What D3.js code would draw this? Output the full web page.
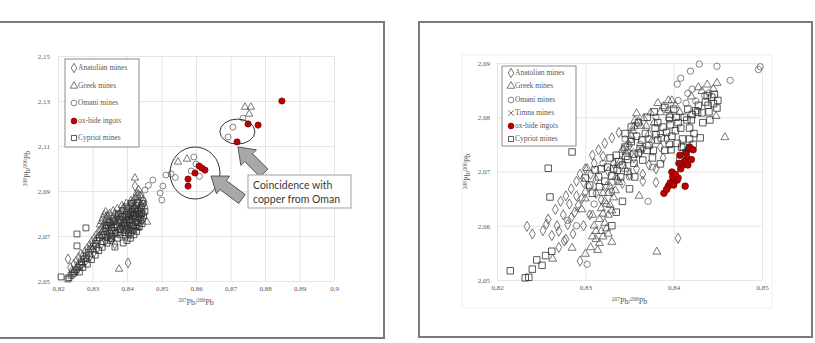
<!DOCTYPE html>
<html>
<head>
<meta charset="utf-8">
<script src="https://cdn.jsdelivr.net/npm/d3@7"></script>
<style>body{margin:0;background:#fff}</style>
</head>
<body>
<svg id="chart" width="815" height="343"></svg>
<script>
// ---- left panel data (207Pb/206Pb, 208Pb/206Pb) ----
const leftXTicks = [0.82, 0.83, 0.84, 0.85, 0.86, 0.87, 0.88, 0.89, 0.9];
const leftXLabels = ['0,82', '0,83', '0,84', '0,85', '0,86', '0,87', '0,88', '0,89', '0,9'];
const leftYTicks = [2.05, 2.07, 2.09, 2.11, 2.13, 2.15];
const leftYLabels = ['2,05', '2,07', '2,09', '2,11', '2,13', '2,15'];

const leftAnatolian = [[0.8229,2.0598],[0.8236,2.0560],[0.8240,2.0545],[0.8246,2.0575],[0.8253,2.0590],[0.8260,2.0604],[0.8266,2.0620],[0.8272,2.0612],[0.8278,2.0630],[0.8285,2.0645],[0.8292,2.0660],[0.8298,2.0675],[0.8305,2.0690],[0.8312,2.0705],[0.8318,2.0718],[0.8325,2.0730],[0.8330,2.0745],[0.8336,2.0705],[0.8343,2.0720],[0.8349,2.0735],[0.8355,2.0750],[0.8361,2.0762],[0.8367,2.0775],[0.8373,2.0788],[0.8379,2.0800],[0.8385,2.0812],[0.8391,2.0825],[0.8397,2.0810],[0.8403,2.0822],[0.8409,2.0835],[0.8415,2.0848],[0.8421,2.0860],[0.8427,2.0872],[0.8433,2.0884],[0.8423,2.0922],[0.8403,2.0580],[0.8377,2.0720],[0.8384,2.0740],[0.8360,2.0700],[0.8440,2.0840],[0.8447,2.0860],
  [0.8338,2.0680],[0.8352,2.0692],[0.8366,2.0715],[0.8378,2.0735],[0.8390,2.0755],[0.8402,2.0765],[0.8414,2.0790],[0.8426,2.0812],[0.8438,2.0825],[0.8450,2.0850],[0.8370,2.0790],[0.8383,2.0765],[0.8395,2.0785],[0.8408,2.0808],[0.8420,2.0828],[0.8432,2.0842],[0.8346,2.0760],[0.8358,2.0775],[0.8365,2.0665],[0.8255,2.0545],[0.8268,2.0570],[0.8280,2.0590],[0.8293,2.0612],[0.8305,2.0630],[0.8315,2.0648],[0.8326,2.0665],
  [0.8398,2.0720],[0.8408,2.0735],[0.8418,2.0750],[0.8430,2.0768],[0.8440,2.0788],[0.8412,2.0710],[0.8422,2.0728],[0.8434,2.0750],[0.8446,2.0775],[0.8452,2.0830]];
const leftGreek = [[0.8377,2.0553],[0.8458,2.0762],[0.8423,2.0958],[0.8742,2.1273],[0.8759,2.1273],[0.8754,2.1242],[0.8548,2.1029],[0.8574,2.1042],[0.8300,2.0640],[0.8318,2.0700],[0.8322,2.0750],[0.8326,2.0765],[0.8330,2.0780],[0.8334,2.0795],[0.8338,2.0808],[0.8342,2.0790],[0.8347,2.0770],[0.8352,2.0760],[0.8358,2.0785],[0.8365,2.0800],[0.8375,2.0780],[0.8390,2.0790],[0.8405,2.0800],[0.8418,2.0830],[0.8428,2.0890],[0.8434,2.0905],[0.8380,2.0740],[0.8395,2.0750],[0.8410,2.0770],[0.8270,2.0580],[0.8285,2.0600],[0.8310,2.0660],
  [0.8335,2.0760],[0.8340,2.0775],[0.8344,2.0788],[0.8350,2.0800],[0.8360,2.0812],[0.8372,2.0822],[0.8385,2.0835],[0.8398,2.0845],[0.8412,2.0858],[0.8425,2.0868],[0.8438,2.0880],[0.8416,2.0800],[0.8400,2.0770],[0.8386,2.0750],[0.8360,2.0720],[0.8345,2.0700],
  [0.8405,2.0720],[0.8420,2.0742],[0.8432,2.0735],[0.8445,2.0800]];
const leftOmani = [[0.8475,2.0949],[0.8504,2.0922],[0.8513,2.0971],[0.8528,2.0976],[0.8586,2.0989],[0.8594,2.1051],[0.8736,2.1224],[0.8707,2.1184],[0.8693,2.1140],[0.8501,2.0860],[0.8496,2.0891],[0.8452,2.0904],[0.8462,2.0925],[0.8440,2.0880],[0.8445,2.0860],[0.8430,2.0870],[0.8610,2.0965],[0.8600,2.1020],[0.8540,2.0960],[0.8420,2.0850],[0.8410,2.0825],[0.8380,2.0760],[0.8355,2.0735],[0.8330,2.0700]];
const leftOxhide = [[0.8849,2.1300],[0.8751,2.1198],[0.8780,2.1193],[0.8719,2.1118],[0.8609,2.1011],[0.8626,2.0993],[0.8597,2.0980],[0.8577,2.0953],[0.8577,2.0922],[0.8617,2.1002]];
const leftCypriot = [[0.8209,2.0518],[0.8229,2.0509],[0.8232,2.0515],[0.8238,2.0525],[0.8243,2.0532],[0.8248,2.0540],[0.8255,2.0656],[0.8255,2.0709],[0.8281,2.0736],[0.8252,2.0550],[0.8258,2.0561],[0.8263,2.0572],[0.8268,2.0585],[0.8275,2.0598],[0.8282,2.0612],[0.8288,2.0628],[0.8295,2.0642],[0.8302,2.0655],[0.8308,2.0668],[0.8313,2.0680],[0.8320,2.0692],[0.8327,2.0705],[0.8333,2.0720],[0.8338,2.0733],[0.8345,2.0745],[0.8350,2.0712],[0.8356,2.0725],[0.8362,2.0738],[0.8368,2.0750],[0.8374,2.0762],[0.8380,2.0775],[0.8386,2.0788],[0.8392,2.0760],[0.8398,2.0772],[0.8404,2.0785],[0.8410,2.0798],[0.8416,2.0810],[0.8422,2.0822],[0.8428,2.0835],[0.8395,2.0735],[0.8402,2.0748],[0.8408,2.0762],[0.8414,2.0775],[0.8420,2.0790],[0.8389,2.0669],[0.8365,2.0651],[0.8372,2.0690],[0.8380,2.0705],[0.8352,2.0680],[0.8342,2.0695],[0.8432,2.0850],[0.8438,2.0810],[0.8426,2.0800],
  [0.8330,2.0675],[0.8342,2.0668],[0.8356,2.0700],[0.8368,2.0712],[0.8381,2.0728],[0.8394,2.0745],[0.8406,2.0770],[0.8418,2.0792],[0.8430,2.0815],[0.8442,2.0828],[0.8375,2.0798],[0.8388,2.0812],[0.8400,2.0830],[0.8412,2.0845],[0.8362,2.0770],[0.8350,2.0760],[0.8340,2.0748],[0.8262,2.0540],[0.8272,2.0560],[0.8285,2.0575],[0.8297,2.0595],[0.8308,2.0615],[0.8318,2.0635],[0.8328,2.0650],[0.8355,2.0688],[0.8372,2.0742],[0.8398,2.0795],[0.8425,2.0780],[0.8436,2.0795],[0.8446,2.0845],[0.8392,2.0715],[0.8403,2.0730],
  [0.8395,2.0700],[0.8405,2.0712],[0.8415,2.0725],[0.8425,2.0740],[0.8432,2.0760],[0.8440,2.0772],[0.8448,2.0790],[0.8452,2.0810],[0.8410,2.0690],[0.8420,2.0705],[0.8428,2.0720],[0.8436,2.0742],[0.8444,2.0755],[0.8400,2.0680],[0.8415,2.0745],[0.8425,2.0760],[0.8435,2.0778],[0.8442,2.0800]];

// annotation ellipses (centre in data units, radii in px)
const leftEllipses = [[0.8597, 2.0980, 25, 26], [0.8720, 2.1164, 17.5, 12.5]];
const noteLines = ['Coincidence with', 'copper from Oman'];

// ---- right panel data ----
const rightXTicks = [0.82, 0.83, 0.84, 0.85];
const rightXLabels = ['0,82', '0,83', '0,84', '0,85'];
const rightYTicks = [2.05, 2.06, 2.07, 2.08, 2.09];
const rightYLabels = ['2,05', '2,06', '2,07', '2,08', '2,09'];

const rightAnatolian = [[0.8234,2.0599],[0.8252,2.0591],[0.8256,2.0603],[0.8262,2.0582],[0.8270,2.0590],[0.8276,2.0572],[0.8280,2.0602],[0.8284,2.0615],[0.8288,2.0625],[0.8292,2.0638],[0.8296,2.0650],[0.8300,2.0662],[0.8304,2.0672],[0.8294,2.0535],[0.8405,2.0577],[0.8275,2.0620],[0.8282,2.0640],[0.8290,2.0655],[0.8298,2.0680],[0.8306,2.0695],[0.8312,2.0660],[0.8318,2.0648],[0.8324,2.0672],[0.8330,2.0662],[0.8336,2.0685],[0.8342,2.0678],[0.8350,2.0695],[0.8358,2.0705],[0.8365,2.0695],[0.8372,2.0712],[0.8380,2.0705],[0.8388,2.0725],[0.8343,2.0740],[0.8350,2.0748],[0.8365,2.0742],[0.8310,2.0715],[0.8320,2.0728],[0.8286,2.0585],[0.8298,2.0600],[0.8305,2.0620],[0.8365,2.0682],[0.8380,2.0680],
  [0.8240,2.0585],[0.8258,2.0612],[0.8266,2.0630],[0.8272,2.0645],[0.8278,2.0655],[0.8268,2.0600],[0.8284,2.0668],[0.8290,2.0682],[0.8294,2.0695],[0.8300,2.0705],[0.8308,2.0730],[0.8315,2.0740],[0.8322,2.0752],[0.8330,2.0762],[0.8338,2.0772],[0.8312,2.0685],[0.8326,2.0700],[0.8332,2.0715],[0.8355,2.0725],[0.8362,2.0735],[0.8375,2.0755],[0.8385,2.0745],[0.8392,2.0760],[0.8278,2.0575],[0.8270,2.0560]];
const rightGreek = [[0.8302,2.0706],[0.8263,2.0539],[0.8285,2.0559],[0.8300,2.0548],[0.8306,2.0560],[0.8312,2.0575],[0.8318,2.0590],[0.8322,2.0605],[0.8326,2.0620],[0.8318,2.0632],[0.8322,2.0645],[0.8326,2.0660],[0.8330,2.0570],[0.8314,2.0555],[0.8328,2.0638],[0.8332,2.0652],[0.8310,2.0600],[0.8308,2.0620],[0.8340,2.0720],[0.8346,2.0735],[0.8351,2.0758],[0.8352,2.0766],[0.8354,2.0775],[0.8355,2.0783],[0.8356,2.0794],[0.8358,2.0807],[0.8363,2.0784],[0.8369,2.0784],[0.8361,2.0655],[0.8381,2.0552],[0.8382,2.0826],[0.8385,2.0809],[0.8394,2.0831],[0.8398,2.0831],[0.8394,2.0813],[0.8407,2.0809],[0.8396,2.0804],[0.8428,2.0855],[0.8449,2.0863],[0.8445,2.0852],[0.8448,2.0802],[0.8458,2.0763],[0.8335,2.0690],[0.8345,2.0705],[0.8372,2.0770],[0.8378,2.0790],
  [0.8316,2.0568],[0.8320,2.0580],[0.8324,2.0595],[0.8316,2.0612],[0.8320,2.0622],[0.8330,2.0628],[0.8324,2.0640],[0.8320,2.0660],[0.8328,2.0672],[0.8334,2.0665],[0.8338,2.0680],[0.8312,2.0590],[0.8308,2.0580],[0.8326,2.0585],[0.8342,2.0740],[0.8348,2.0750],[0.8360,2.0792],[0.8366,2.0798],[0.8374,2.0808],[0.8388,2.0820],[0.8402,2.0822],[0.8420,2.0838],[0.8432,2.0848],[0.8438,2.0860],[0.8300,2.0650],[0.8296,2.0630]];
const rightOmani = [[0.8429,2.0898],[0.8449,2.0894],[0.8419,2.0885],[0.8408,2.0872],[0.8404,2.0861],[0.8416,2.0844],[0.8421,2.0852],[0.8464,2.0868],[0.8496,2.0888],[0.8498,2.0893],[0.8405,2.0831],[0.8414,2.0826],[0.8371,2.0645],[0.8376,2.0708],[0.8302,2.0529],[0.8310,2.0640],[0.8330,2.0680],[0.8350,2.0690],[0.8372,2.0760],[0.8385,2.0770],[0.8395,2.0795],[0.8380,2.0800],[0.8362,2.0750],[0.8345,2.0760],[0.8320,2.0715],[0.8425,2.0830],[0.8435,2.0840],[0.8440,2.0845],[0.8280,2.0610],[0.8290,2.0600]];
const rightTimna = [[0.8335,2.0710],[0.8352,2.0738],[0.8290,2.0630]];
const rightOxhide = [[0.8389,2.0660],[0.8394,2.0673],[0.8399,2.0680],[0.8404,2.0684],[0.8413,2.0673],[0.8396,2.0679],[0.8399,2.0690],[0.8405,2.0688],[0.8398,2.0699],[0.8407,2.0730],[0.8415,2.0725],[0.8402,2.0695],[0.8408,2.0705],[0.8410,2.0712],[0.8412,2.0718],[0.8406,2.0715],[0.8414,2.0735],[0.8417,2.0742],[0.8392,2.0667],[0.8416,2.0712],[0.8420,2.0722],[0.8418,2.0745],[0.8422,2.0740],[0.8400,2.0675]];
const rightCypriot = [[0.8215,2.0517],[0.8232,2.0504],[0.8236,2.0505],[0.8240,2.0520],[0.8245,2.0537],[0.8251,2.0527],[0.8255,2.0545],[0.8262,2.0553],[0.8260,2.0653],[0.8258,2.0706],[0.8285,2.0736],[0.8311,2.0703],[0.8318,2.0705],[0.8325,2.0708],[0.8300,2.0688],[0.8305,2.0675],[0.8315,2.0690],[0.8322,2.0682],[0.8330,2.0692],[0.8336,2.0702],[0.8342,2.0712],[0.8348,2.0722],[0.8355,2.0732],[0.8360,2.0734],[0.8364,2.0758],[0.8365,2.0721],[0.8370,2.0739],[0.8376,2.0725],[0.8377,2.0739],[0.8379,2.0780],[0.8382,2.0758],[0.8385,2.0714],[0.8388,2.0782],[0.8390,2.0739],[0.8395,2.0750],[0.8398,2.0765],[0.8402,2.0775],[0.8405,2.0790],[0.8407,2.0720],[0.8409,2.0745],[0.8410,2.0760],[0.8412,2.0800],[0.8414,2.0735],[0.8416,2.0815],[0.8418,2.0780],[0.8420,2.0795],[0.8422,2.0750],[0.8425,2.0812],[0.8427,2.0809],[0.8430,2.0762],[0.8433,2.0790],[0.8436,2.0828],[0.8439,2.0822],[0.8441,2.0795],[0.8443,2.0837],[0.8449,2.0817],[0.8450,2.0831],[0.8345,2.0745],[0.8352,2.0755],[0.8358,2.0765],[0.8335,2.0730],[0.8328,2.0725],[0.8340,2.0690],[0.8348,2.0700],[0.8330,2.0600],[0.8335,2.0625],[0.8342,2.0645],[0.8350,2.0668],[0.8356,2.0690],[0.8395,2.0800],[0.8400,2.0815],[0.8382,2.0790],[0.8368,2.0770],
  [0.8372,2.0748],[0.8380,2.0768],[0.8386,2.0762],[0.8392,2.0772],[0.8396,2.0786],[0.8403,2.0800],[0.8408,2.0780],[0.8415,2.0795],[0.8421,2.0805],[0.8428,2.0822],[0.8432,2.0808],[0.8438,2.0840],[0.8445,2.0825],[0.8423,2.0770],[0.8418,2.0760],[0.8411,2.0745],[0.8404,2.0752],[0.8397,2.0740],[0.8362,2.0742],[0.8355,2.0715],[0.8346,2.0728],[0.8338,2.0718],[0.8332,2.0705],[0.8316,2.0672],[0.8308,2.0660],[0.8345,2.0770],[0.8352,2.0782],[0.8360,2.0790],[0.8370,2.0800],[0.8378,2.0810],[0.8390,2.0818],[0.8440,2.0810],[0.8446,2.0842]];

const serif = '"Liberation Serif", "DejaVu Serif", serif';
const symTimes = d3.symbolTimes || d3.symbolCross;

const svg = d3.select('#chart');

// panel frames
svg.append('rect').attr('x', -2).attr('y', 22).attr('width', 386).attr('height', 316)
  .attr('fill', 'none').attr('stroke', '#7a7a7a').attr('stroke-width', 2);
svg.append('rect').attr('x', 419).attr('y', 22).attr('width', 393).attr('height', 315)
  .attr('fill', 'none').attr('stroke', '#7a7a7a').attr('stroke-width', 2);
// faint chart-area border of the right chart
svg.append('rect').attr('x', 462).attr('y', 55).attr('width', 310).attr('height', 253)
  .attr('fill', 'none').attr('stroke', '#f0f0f0');

// label with superscript isotopes: ²⁰⁷Pb/²⁰⁶Pb
function isoLabel(sel, a, b) {
  sel.append('tspan').attr('font-size', 5.5).attr('dy', -3).text(a);
  sel.append('tspan').attr('dy', 3).text('Pb/');
  sel.append('tspan').attr('font-size', 5.5).attr('dy', -3).text(b);
  sel.append('tspan').attr('dy', 3).text('Pb');
}

function drawPanel(o) {
  const x = d3.scaleLinear().domain(o.xDomain).range(o.xRange);
  const y = d3.scaleLinear().domain(o.yDomain).range(o.yRange);
  const g = svg.append('g');
  const w = o.xRange[1] - o.xRange[0];
  const h = o.yRange[0] - o.yRange[1];

  // grid
  g.append('g').attr('transform', `translate(0,${o.yRange[0]})`)
    .call(d3.axisBottom(x).tickValues(o.xTicks).tickSize(-h).tickFormat(''))
    .call(a => a.select('.domain').remove())
    .call(a => a.selectAll('line').attr('stroke', '#e6e6e6'));
  g.append('g').attr('transform', `translate(${o.xRange[0]},0)`)
    .call(d3.axisLeft(y).tickValues(o.yTicks).tickSize(-w).tickFormat(''))
    .call(a => a.select('.domain').remove())
    .call(a => a.selectAll('line').attr('stroke', '#e6e6e6'));

  // tick labels
  g.append('g').attr('transform', `translate(0,${o.yRange[0]})`)
    .call(d3.axisBottom(x).tickValues(o.xTicks).tickSize(0).tickPadding(5)
      .tickFormat((d, i) => o.xLabels[i]))
    .call(a => a.select('.domain').remove())
    .call(a => a.selectAll('text').attr('font-family', serif).attr('font-size', 7).attr('fill', '#595959'));
  g.append('g').attr('transform', `translate(${o.xRange[0]},0)`)
    .call(d3.axisLeft(y).tickValues(o.yTicks).tickSize(0).tickPadding(o.yPad)
      .tickFormat((d, i) => o.yLabels[i]))
    .call(a => a.select('.domain').remove())
    .call(a => a.selectAll('text').attr('font-family', serif).attr('font-size', 7).attr('fill', '#595959'));

  // axis titles
  g.append('text').attr('x', (o.xRange[0] + o.xRange[1]) / 2).attr('y', o.yRange[0] + 24)
    .attr('text-anchor', 'middle').attr('font-family', serif).attr('font-size', 8).attr('fill', '#595959')
    .call(isoLabel, '207', '206');
  g.append('text')
    .attr('transform', `translate(${o.yTitleX},${(o.yRange[0] + o.yRange[1]) / 2}) rotate(-90)`)
    .attr('text-anchor', 'middle').attr('font-family', serif).attr('font-size', 8).attr('fill', '#595959')
    .call(isoLabel, '208', '206');

  // series
  o.series.forEach(s => {
    g.append('g').selectAll('path').data(s.data).enter().append('path')
      .attr('transform', d => `translate(${x(d[0])},${y(d[1])})`)
      .attr('d', d3.symbol().type(s.type).size(s.size))
      .attr('fill', s.fill || 'none')
      .attr('stroke', s.stroke)
      .attr('stroke-width', 0.8);
  });

  // legend
  const lg = g.append('g');
  lg.append('rect').attr('x', o.legend.x).attr('y', o.legend.y)
    .attr('width', o.legend.w).attr('height', o.legend.h)
    .attr('fill', '#fff').attr('stroke', '#8c8c8c');
  o.series.slice().sort((a, b) => a.order - b.order).forEach((s, i) => {
    const ly = o.legend.rows[i];
    lg.append('path')
      .attr('transform', `translate(${o.legend.x + 9},${ly})`)
      .attr('d', d3.symbol().type(s.type).size(Math.min(s.size, 26)))
      .attr('fill', s.fill || 'none').attr('stroke', s.stroke).attr('stroke-width', 0.8);
    lg.append('text').attr('x', o.legend.x + 13).attr('y', ly).attr('dy', '0.33em')
      .attr('font-family', serif).attr('font-size', 7.5).attr('fill', '#595959').text(s.name);
  });
  return { x, y, g };
}

const red = { fill: '#c00000', stroke: '#7a0000' };

const left = drawPanel({
  xDomain: [0.82, 0.9], xRange: [58, 334],
  yDomain: [2.05, 2.15], yRange: [281, 56],
  xTicks: leftXTicks, xLabels: leftXLabels, yTicks: leftYTicks, yLabels: leftYLabels,
  yPad: 8, yTitleX: 30,
  legend: { x: 65, y: 59, w: 74, h: 88, rows: [68, 86, 103, 121, 138] },
  series: [
    { name: 'Anatolian mines', order: 0, data: leftAnatolian, type: d3.symbolDiamond, size: 28, stroke: '#555' },
    { name: 'Greek mines', order: 1, data: leftGreek, type: d3.symbolTriangle, size: 24, stroke: '#555' },
    { name: 'Omani mines', order: 2, data: leftOmani, type: d3.symbolCircle, size: 28, stroke: '#666' },
    { name: 'Cypriot mines', order: 4, data: leftCypriot, type: d3.symbolSquare, size: 34, stroke: '#2e2e2e' },
    { name: 'ox-hide ingots', order: 3, data: leftOxhide, type: d3.symbolCircle, size: 30, fill: red.fill, stroke: red.stroke }
  ]
});

// ellipses round the Omani-like ingots
left.g.selectAll('ellipse.note').data(leftEllipses).enter().append('ellipse')
  .attr('cx', d => left.x(d[0])).attr('cy', d => left.y(d[1]))
  .attr('rx', d => d[2]).attr('ry', d => d[3])
  .attr('fill', 'none').attr('stroke', '#333').attr('stroke-width', 1);

// block arrows pointing at the ellipses
function blockArrow(tip, tail) {
  const dx = tail[0] - tip[0], dy = tail[1] - tip[1];
  const len = Math.hypot(dx, dy), ux = dx / len, uy = dy / len, px = -uy, py = ux;
  const hl = 15, hw = 11, sw = 5.5;
  const p = (a, b) => [tip[0] + ux * a + px * b, tip[1] + uy * a + py * b];
  return [p(0, 0), p(hl, hw), p(hl, sw), p(len, sw), p(len, -sw), p(hl, -sw), p(hl, -hw)];
}
[[[211, 176], [242, 199]], [[238, 147], [264, 173]]].forEach(a => {
  left.g.append('polygon').attr('points', blockArrow(a[0], a[1]).join(' '))
    .attr('fill', '#a8a8a8').attr('stroke', '#555').attr('stroke-width', 1);
});

// note box
left.g.append('rect').attr('x', 248).attr('y', 175).attr('width', 103).attr('height', 33)
  .attr('fill', '#fff').attr('stroke', '#a0a0a0');
left.g.selectAll('text.note').data(noteLines).enter().append('text')
  .attr('x', 253).attr('y', (d, i) => 189 + i * 14)
  .attr('font-family', 'Lato, "Open Sans", sans-serif').attr('font-size', 10.5).attr('fill', '#3a3a3a')
  .text(d => d);

drawPanel({
  xDomain: [0.82, 0.85], xRange: [497, 762],
  yDomain: [2.05, 2.09], yRange: [280, 63],
  xTicks: rightXTicks, xLabels: rightXLabels, yTicks: rightYTicks, yLabels: rightYLabels,
  yPad: 7, yTitleX: 470,
  legend: { x: 502, y: 66, w: 74, h: 80, rows: [73, 86, 100, 113, 126, 139] },
  series: [
    { name: 'Anatolian mines', order: 0, data: rightAnatolian, type: d3.symbolDiamond, size: 30, stroke: '#555' },
    { name: 'Greek mines', order: 1, data: rightGreek, type: d3.symbolTriangle, size: 28, stroke: '#555' },
    { name: 'Omani mines', order: 2, data: rightOmani, type: d3.symbolCircle, size: 32, stroke: '#666' },
    { name: 'Timna mines', order: 3, data: rightTimna, type: symTimes, size: 22, stroke: '#555' },
    { name: 'ox-hide ingots', order: 4, data: rightOxhide, type: d3.symbolCircle, size: 34, fill: red.fill, stroke: red.stroke },
    { name: 'Cypriot mines', order: 5, data: rightCypriot, type: d3.symbolSquare, size: 42, stroke: '#2e2e2e' }
  ]
});
</script>
</body>
</html>
